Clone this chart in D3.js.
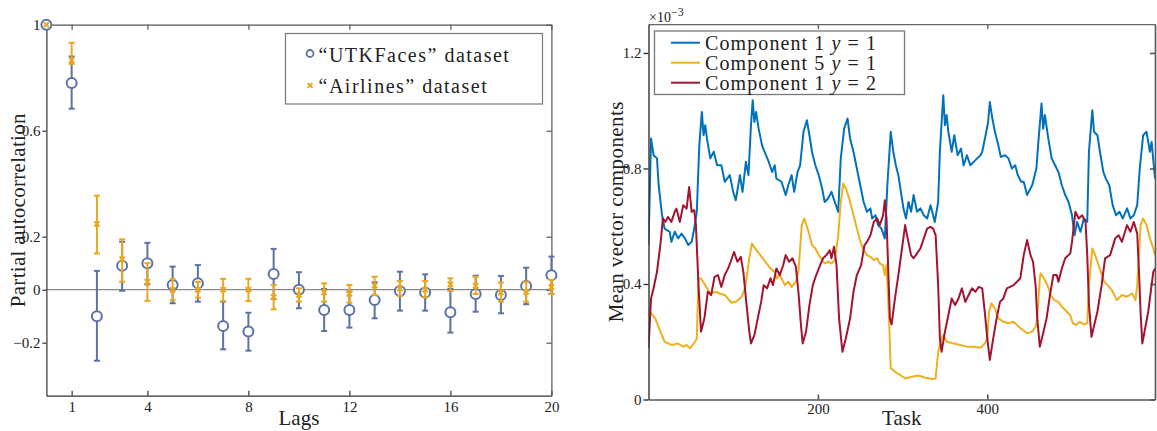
<!DOCTYPE html>
<html><head><meta charset="utf-8">
<script src="https://cdn.jsdelivr.net/npm/d3@7"></script>
<style>
body{margin:0;background:#fff;}
svg{display:block;font-family:"Liberation Serif","Times New Roman",serif;}
</style></head><body>
<svg id="c" width="1157" height="431"></svg>
<script>
// ---------- Left panel data (partial autocorrelation) ----------
const lags = [0,1,2,3,4,5,6,7,8,9,10,11,12,13,14,15,16,17,18,19,20];
const utkVal = [1,0.78,-0.10,0.09,0.10,0.018,0.024,-0.137,-0.158,0.059,0.0,-0.077,-0.077,-0.039,-0.005,-0.011,-0.085,-0.016,-0.02,0.014,0.055];
const utkLo  = [null,0.683,-0.268,-0.004,0.02,-0.051,-0.045,-0.225,-0.23,-0.035,-0.07,-0.156,-0.143,-0.108,-0.079,-0.079,-0.162,-0.083,-0.089,-0.055,-0.016];
const utkHi  = [null,0.88,0.071,0.181,0.177,0.087,0.093,-0.045,-0.087,0.154,0.066,0.003,-0.007,0.028,0.068,0.058,0.003,0.053,0.052,0.083,0.125];
const airVal = [1,0.866,0.248,0.115,0.03,0.0,0.0,0.0,0.0,-0.028,-0.02,-0.01,-0.015,0.015,0.005,0.0,0.02,0.015,-0.01,-0.008,0.01];
const airLo  = [null,0.852,0.137,0.03,-0.042,-0.04,-0.03,-0.043,-0.043,-0.074,-0.045,-0.045,-0.049,-0.02,-0.024,-0.029,-0.005,-0.016,-0.045,-0.045,-0.016];
const airHi  = [null,0.932,0.355,0.19,0.1,0.04,0.03,0.041,0.041,0.018,0.005,0.024,0.018,0.049,0.033,0.033,0.043,0.049,0.027,0.03,0.037];
const lagTicks = [1,4,8,12,16,20];
const pacfTicks = [-0.2,0,0.2,0.6,1];
const pacfTickLabels = ["\u22120.2","0","0.2","0.6","1"];
const leftLegend = ["\u201CUTKFaces\u201D dataset","\u201CAirlines\u201D dataset"];

// ---------- Right panel data (mean vector components, x10^-3) ----------
const blueTask = [0,3,6,10,12,16,19,25,27,31,35,39,43,47,51,54,57,60,63,65,67,69,73,77,81,86,90,96,100,103,108,111,115,118,121,123,125,127,130,134,137,142,146,149,151,157,162,165,169,172,176,179,183,187,190,193,197,201,205,208,212,216,220,224,227,231,235,238,242,246,250,254,258,262,264,268,271,275,279,282,286,289,292,295,298,301,304,307,310,313,317,321,325,329,333,335,338,342,344,348,350,352,354,358,361,365,369,372,376,380,384,388,392,394,398,401,403,406,409,413,416,421,425,429,433,436,440,443,447,451,453,455,458,460,464,466,468,472,476,480,484,488,492,496,500,503,506,510,514,518,520,524,526,530,533,537,540,544,548,552,556,560,565,569,573,577,580,584,588,592,594,598];
const blueVal = [0.535,0.904,0.846,0.835,0.742,0.638,0.592,0.581,0.546,0.581,0.558,0.575,0.558,0.535,0.546,0.592,0.65,0.881,0.996,0.915,0.95,0.904,0.835,0.858,0.811,0.811,0.754,0.777,0.719,0.69,0.777,0.719,0.823,0.777,0.95,1.036,0.961,0.996,0.938,0.881,0.858,0.823,0.788,0.811,0.765,0.754,0.708,0.742,0.777,0.719,0.788,0.811,0.927,0.967,0.915,0.858,0.811,0.777,0.731,0.684,0.696,0.719,0.684,0.65,0.835,0.938,0.973,0.904,0.858,0.8,0.742,0.684,0.65,0.662,0.627,0.638,0.604,0.592,0.558,0.742,0.927,0.858,0.811,0.777,0.719,0.662,0.627,0.684,0.65,0.708,0.65,0.662,0.638,0.627,0.673,0.65,0.615,0.684,0.858,1.054,0.95,0.985,0.927,0.858,0.915,0.846,0.869,0.811,0.846,0.811,0.823,0.835,0.846,0.858,0.915,0.961,1.03,0.973,0.927,0.881,0.84,0.846,0.835,0.8,0.811,0.777,0.754,0.754,0.708,0.731,0.742,0.765,0.8,0.881,1.025,0.938,0.985,0.904,0.835,0.811,0.788,0.742,0.708,0.684,0.638,0.569,0.615,0.581,0.627,0.615,0.858,1.002,0.927,0.915,0.858,0.788,0.765,0.742,0.673,0.638,0.65,0.627,0.662,0.627,0.638,0.673,0.8,0.915,0.927,0.858,0.892,0.765];
const orangeTask = [0,8,14,19,27,35,41,45,49,55,57,59,62,67,73,79,84,90,98,104,110,114,119,122,126,132,138,144,149,151,155,161,165,169,174,177,181,184,189,193,197,201,205,208,212,216,220,224,227,230,233,237,241,245,249,253,258,262,266,270,273,277,279,281,284,286,291,297,303,311,319,327,335,339,342,346,348,352,360,368,376,384,392,397,400,402,405,409,413,419,425,431,437,441,447,453,457,459,462,463,467,471,475,479,484,488,494,498,501,505,509,514,518,520,524,526,530,534,538,542,547,553,559,565,571,575,577,581,584,588,592,596,598];
const orangeVal = [0.31,0.281,0.235,0.2,0.189,0.194,0.183,0.189,0.177,0.2,0.21,0.419,0.419,0.396,0.367,0.373,0.367,0.362,0.335,0.34,0.356,0.385,0.489,0.54,0.523,0.5,0.477,0.454,0.442,0.419,0.431,0.396,0.408,0.39,0.408,0.442,0.604,0.627,0.581,0.535,0.523,0.5,0.483,0.471,0.477,0.471,0.483,0.569,0.684,0.748,0.731,0.696,0.65,0.604,0.558,0.523,0.5,0.494,0.483,0.489,0.471,0.465,0.431,0.465,0.281,0.108,0.096,0.085,0.073,0.079,0.083,0.075,0.071,0.073,0.165,0.212,0.223,0.2,0.194,0.189,0.183,0.183,0.179,0.194,0.212,0.304,0.333,0.315,0.281,0.269,0.264,0.269,0.252,0.243,0.229,0.235,0.252,0.281,0.419,0.437,0.419,0.396,0.362,0.344,0.338,0.321,0.304,0.292,0.264,0.258,0.269,0.26,0.264,0.396,0.523,0.511,0.477,0.442,0.408,0.396,0.379,0.344,0.362,0.356,0.367,0.344,0.396,0.604,0.627,0.604,0.558,0.523,0.5];
const redTask = [0,3,6,10,14,17,20,23,27,31,33,37,41,45,48,51,54,56,59,62,66,70,74,78,82,86,90,94,97,101,105,109,112,115,119,121,125,129,133,136,140,144,147,151,155,159,162,166,170,174,177,180,182,186,190,194,198,202,206,210,214,216,219,222,225,229,233,238,242,246,251,255,258,262,266,270,273,277,279,281,283,285,287,291,295,299,303,306,310,313,317,321,325,329,333,336,339,342,344,346,350,354,358,362,366,370,374,378,382,386,390,394,397,400,403,407,411,415,419,423,427,431,435,439,443,447,451,454,457,459,462,466,470,474,478,482,484,488,492,498,500,504,508,512,516,518,520,523,530,535,539,545,551,555,559,565,569,573,577,579,581,583,590,596,598];
const redVal = [0.177,0.35,0.385,0.442,0.535,0.627,0.615,0.632,0.615,0.65,0.661,0.615,0.673,0.661,0.736,0.65,0.656,0.604,0.396,0.235,0.281,0.373,0.362,0.425,0.431,0.39,0.431,0.454,0.477,0.511,0.477,0.494,0.442,0.35,0.235,0.194,0.223,0.281,0.338,0.396,0.385,0.42,0.396,0.454,0.431,0.465,0.5,0.477,0.489,0.46,0.373,0.258,0.194,0.235,0.327,0.396,0.431,0.46,0.489,0.5,0.517,0.489,0.529,0.465,0.281,0.165,0.212,0.281,0.373,0.431,0.465,0.535,0.546,0.569,0.615,0.627,0.604,0.638,0.69,0.627,0.454,0.281,0.26,0.35,0.431,0.517,0.604,0.558,0.5,0.489,0.506,0.523,0.558,0.592,0.598,0.592,0.569,0.396,0.212,0.165,0.235,0.292,0.35,0.327,0.35,0.385,0.338,0.362,0.385,0.373,0.39,0.385,0.304,0.212,0.137,0.212,0.281,0.338,0.35,0.385,0.39,0.396,0.408,0.42,0.5,0.552,0.5,0.477,0.396,0.281,0.183,0.23,0.281,0.362,0.431,0.431,0.408,0.454,0.489,0.506,0.546,0.65,0.627,0.638,0.615,0.5,0.33,0.217,0.304,0.396,0.489,0.5,0.558,0.569,0.546,0.604,0.581,0.615,0.575,0.45,0.3,0.194,0.304,0.442,0.454];
const taskTicks = [200,400];
const compTicks = [0,0.4,0.8,1.2];
const seriesNames = ["Component 1 ","Component 5 ","Component 1 "];
const seriesY = [" = 1"," = 1"," = 2"];
const seriesColors = ["#0072BD","#EDB120","#A2142F"];

const SERIF = "Liberation Serif, Times New Roman, serif";
const svg = d3.select("#c");
const BLUE = "#5b72a6", ORANGE = "#e8a71e";

// ================= LEFT PANEL =================
const xL = d3.scaleLinear().domain([0,20]).range([46.4,551.4]);
const yL = d3.scaleLinear().domain([-0.4,1]).range([395.7,24.7]);
const gL = svg.append("g");

// zero line
gL.append("line").attr("x1",xL(0)).attr("x2",xL(20)).attr("y1",yL(0)).attr("y2",yL(0))
  .attr("stroke","#8a8a8a").attr("stroke-width",1.3);

function styleAxis(g, col, w){
  g.attr("font-family",SERIF).attr("font-size",15);
  g.selectAll("path.domain").attr("stroke",col).attr("stroke-width",w);
  g.selectAll(".tick line").attr("stroke",col).attr("stroke-width",w);
  g.selectAll(".tick text").attr("fill","#222").attr("font-family",SERIF).style("font-size","15px");
}
const axB = gL.append("g").attr("transform",`translate(0,${yL(-0.4)})`)
  .call(d3.axisBottom(xL).tickValues(lagTicks).tickSizeInner(-5).tickSizeOuter(0).tickPadding(6).tickFormat(d3.format("d")));
styleAxis(axB,"#333",1.2);
const axT = gL.append("g").attr("transform",`translate(0,${yL(1)})`)
  .call(d3.axisTop(xL).tickValues(lagTicks).tickSizeInner(-5).tickSizeOuter(0).tickFormat(""));
styleAxis(axT,"#555",1.2);
const axLf = gL.append("g").attr("transform",`translate(${xL(0)},0)`)
  .call(d3.axisLeft(yL).tickValues(pacfTicks).tickSizeInner(4).tickSizeOuter(0).tickPadding(2)
    .tickFormat((d,i)=>pacfTickLabels[i]));
styleAxis(axLf,"#333",1.2);
const axR = gL.append("g").attr("transform",`translate(${xL(20)},0)`)
  .call(d3.axisRight(yL).tickValues(pacfTicks).tickSizeInner(-5).tickSizeOuter(0).tickFormat(""));
styleAxis(axR,"#555",1.2);

// error bars + markers
function errBars(vals, lo, hi, col){
  const g = gL.append("g").attr("stroke",col).attr("stroke-width",2).attr("fill","none");
  lags.forEach((l,i)=>{
    if(lo[i]===null) return;
    const x = xL(l);
    g.append("line").attr("x1",x).attr("x2",x).attr("y1",yL(lo[i])).attr("y2",yL(hi[i]));
    g.append("line").attr("x1",x-3).attr("x2",x+3).attr("y1",yL(lo[i])).attr("y2",yL(lo[i]));
    g.append("line").attr("x1",x-3).attr("x2",x+3).attr("y1",yL(hi[i])).attr("y2",yL(hi[i]));
  });
}
errBars(utkVal, utkLo, utkHi, BLUE);
gL.append("g").selectAll("circle").data(lags).join("circle")
  .attr("cx",d=>xL(d)).attr("cy",(d,i)=>yL(utkVal[i])).attr("r",5)
  .attr("fill","#fff").attr("stroke",BLUE).attr("stroke-width",2);
errBars(airVal, airLo, airHi, ORANGE);
const xm = gL.append("g").attr("stroke",ORANGE).attr("stroke-width",2);
lags.forEach((l,i)=>{
  const x = xL(l), y = yL(airVal[i]), s = 2.6;
  xm.append("path").attr("d",`M${x-s},${y-s}L${x+s},${y+s}M${x-s},${y+s}L${x+s},${y-s}`);
});

// left legend
const lg = gL.append("g");
lg.append("rect").attr("x",285.5).attr("y",33.5).attr("width",257).attr("height",70.5)
  .attr("fill","#fff").attr("stroke","#777").attr("stroke-width",1.2);
lg.append("circle").attr("cx",310).attr("cy",53.5).attr("r",3.5).attr("fill","none").attr("stroke",BLUE).attr("stroke-width",1.8);
lg.append("path").attr("d","M307.6,83L312.4,87.8M307.6,87.8L312.4,83").attr("stroke",ORANGE).attr("stroke-width",1.8);
lg.selectAll("text").data(leftLegend).join("text")
  .attr("x",318.5).attr("y",(d,i)=>i===0?61.5:93)
  .style("font-size","20px").style("letter-spacing","1.5px").attr("fill","#222").text(d=>d);

// axis titles
gL.append("text").attr("transform",`translate(25,${(yL(1)+yL(-0.4))/2}) rotate(-90)`)
  .attr("text-anchor","middle").style("font-size","21px").style("letter-spacing","0.3px").attr("fill","#222").text("Partial autocorrelation");
gL.append("text").attr("x",(xL(0)+xL(20))/2).attr("y",425).attr("text-anchor","middle")
  .style("font-size","21px").attr("fill","#222").text("Lags");

// ================= RIGHT PANEL =================
const xR = d3.scaleLinear().domain([0,598]).range([648.5,1155]);
const yR = d3.scaleLinear().domain([0,1.3]).range([399.5,24.1]);
const gR = svg.append("g");
svg.append("defs").append("clipPath").attr("id","clipR").append("rect")
  .attr("x",648.5).attr("y",24.1).attr("width",1155-648.5).attr("height",399.5-24.1);

const lineGen = (tasks, vals)=> d3.line().x((d,i)=>xR(tasks[i])).y((d,i)=>yR(vals[i]))(vals);
const series = [[blueTask,blueVal],[orangeTask,orangeVal],[redTask,redVal]];
const lines = gR.append("g").attr("clip-path","url(#clipR)");
series.forEach((s,k)=>{
  lines.append("path").attr("d",lineGen(s[0],s[1])).attr("fill","none")
    .attr("stroke",seriesColors[k]).attr("stroke-width",2).attr("stroke-linejoin","round");
});

const rB = gR.append("g").attr("transform",`translate(0,${yR(0)})`)
  .call(d3.axisBottom(xR).tickValues(taskTicks).tickSizeInner(-5).tickSizeOuter(0).tickPadding(4).tickFormat(d3.format("d")));
styleAxis(rB,"#555",1.6);
const rT = gR.append("g").attr("transform",`translate(0,${yR(1.3)})`)
  .call(d3.axisTop(xR).tickValues(taskTicks).tickSizeInner(-5).tickSizeOuter(0).tickFormat(""));
styleAxis(rT,"#666",1.4);
const rL = gR.append("g").attr("transform",`translate(${xR(0)},0)`)
  .call(d3.axisLeft(yR).tickValues(compTicks).tickSizeInner(5).tickSizeOuter(0).tickPadding(2)
    .tickFormat(d=>d===0?"0":d3.format(".1f")(d)));
styleAxis(rL,"#333",1.4);
const rR = gR.append("g").attr("transform",`translate(${xR(598)},0)`)
  .call(d3.axisRight(yR).tickValues(compTicks).tickSizeInner(-5).tickSizeOuter(0).tickFormat(""));
styleAxis(rR,"#555",1.6);

// exponent label
const ex = gR.append("text").attr("x",649).attr("y",22).attr("fill","#222").style("font-size","14px");
ex.append("tspan").text("\u00D710");
ex.append("tspan").attr("dy",-6).style("font-size","12px").text("\u22123");

// right legend
const rl = gR.append("g");
rl.append("rect").attr("x",654.5).attr("y",31).attr("width",250).attr("height",63.5)
  .attr("fill","#fff").attr("stroke","#777").attr("stroke-width",1.3);
seriesNames.forEach((n,i)=>{
  const yy = 42.7 + i*20;
  rl.append("line").attr("x1",671).attr("x2",700).attr("y1",yy).attr("y2",yy)
    .attr("stroke",seriesColors[i]).attr("stroke-width",2);
  const t = rl.append("text").attr("x",705).attr("y",yy+7).style("font-size","20px").style("letter-spacing","1.1px").attr("fill","#222");
  t.append("tspan").text(n);
  t.append("tspan").style("font-style","italic").text("y");
  t.append("tspan").text(seriesY[i]);
});

// axis titles
gR.append("text").attr("transform",`translate(623,${(yR(0)+yR(1.3))/2}) rotate(-90)`)
  .attr("text-anchor","middle").style("font-size","21px").style("letter-spacing","0.4px").attr("fill","#222").text("Mean vector components");
gR.append("text").attr("x",(xR(0)+xR(598))/2).attr("y",425).attr("text-anchor","middle")
  .style("font-size","21px").attr("fill","#222").text("Task");
</script></body></html>
